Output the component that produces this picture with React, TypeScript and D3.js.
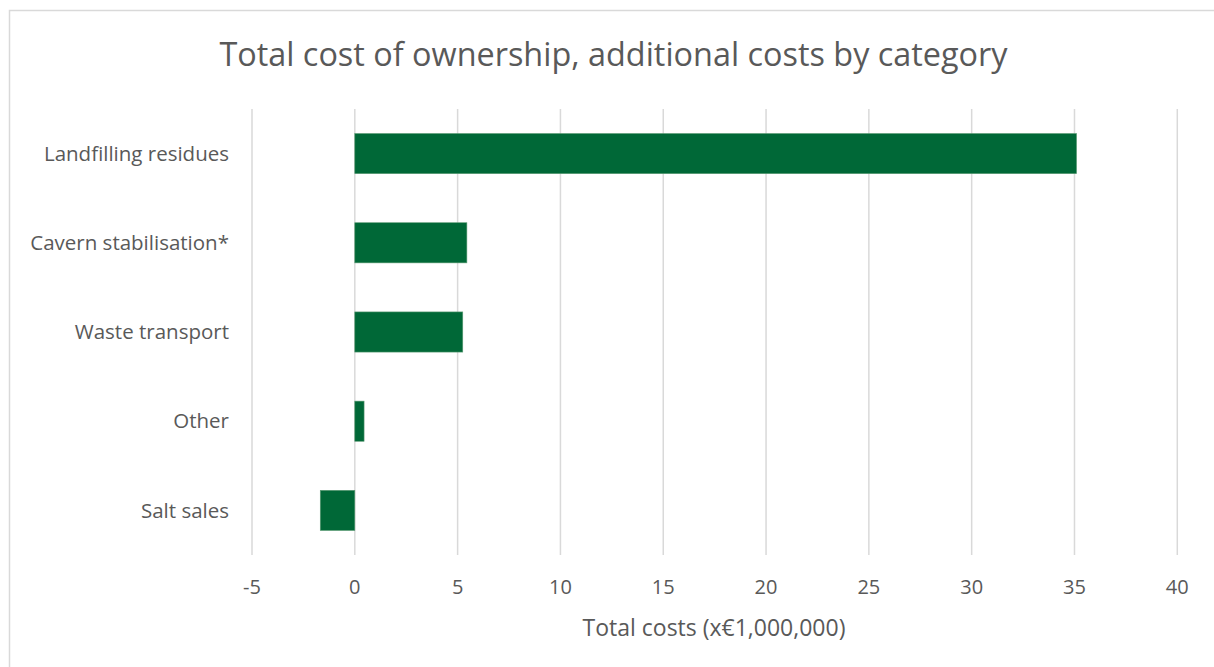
import React from "react";
import * as d3 from "d3";

const categories = ["Landfilling residues", "Cavern stabilisation*", "Waste transport", "Other", "Salt sales"];
const values = [35.1, 5.45, 5.25, 0.45, -1.68];
const xTicks = [-5, 0, 5, 10, 15, 20, 25, 30, 35, 40];
const titleText = "Total cost of ownership, additional costs by category";
const xAxisTitle = "Total costs (x€1,000,000)";

export default function App() {
  const W = 1214, H = 667;
  const left = 252, right = 1177.3, top = 109, bottom = 555;
  const x = d3.scaleLinear().domain([-5, 40]).range([left, right]);
  const y = d3.scaleBand<string>().domain(categories).range([top, bottom]).paddingInner(0.55).paddingOuter(0.275);
  const font = "'Open Sans', sans-serif";
  const grey = "#595959";
  return (
    <svg width={W} height={H} style={{ position: "absolute", left: 0, top: 0 }}>
      <rect x={0} y={0} width={W} height={H} fill="#fff" />
      <rect x={9.5} y={10.5} width={W + 20} height={H + 20} fill="none" stroke="#d9d9d9" strokeWidth={1.5} />
      <text x={613.5} y={55} dy="0.35em" textAnchor="middle" fontFamily={font} fontSize={32.4} fill={grey}>{titleText}</text>
      {xTicks.map((t) => (
        <line key={t} x1={x(t)} x2={x(t)} y1={top} y2={bottom} stroke="#d9d9d9" strokeWidth={1.5} />
      ))}
      {categories.map((c, i) => {
        const v = values[i];
        const x0 = x(Math.min(0, v));
        const x1 = x(Math.max(0, v));
        return (
          <rect key={c} x={x0} y={y(c)} width={x1 - x0} height={y.bandwidth()} fill="#006837" stroke="#5a9a72" strokeWidth={0.6} />
        );
      })}
      {categories.map((c) => (
        <text key={c} x={229} y={(y(c) as number) + y.bandwidth() / 2} dy="0.35em" textAnchor="end" fontFamily={font} fontSize={20.5} fill={grey}>{c}</text>
      ))}
      {xTicks.map((t) => (
        <text key={t} x={x(t)} y={587} dy="0.35em" textAnchor="middle" fontFamily={font} fontSize={20} fill={grey}>{t}</text>
      ))}
      <text x={714} y={628} dy="0.35em" textAnchor="middle" fontFamily={font} fontSize={23} fill={grey}>{xAxisTitle}</text>
    </svg>
  );
}
